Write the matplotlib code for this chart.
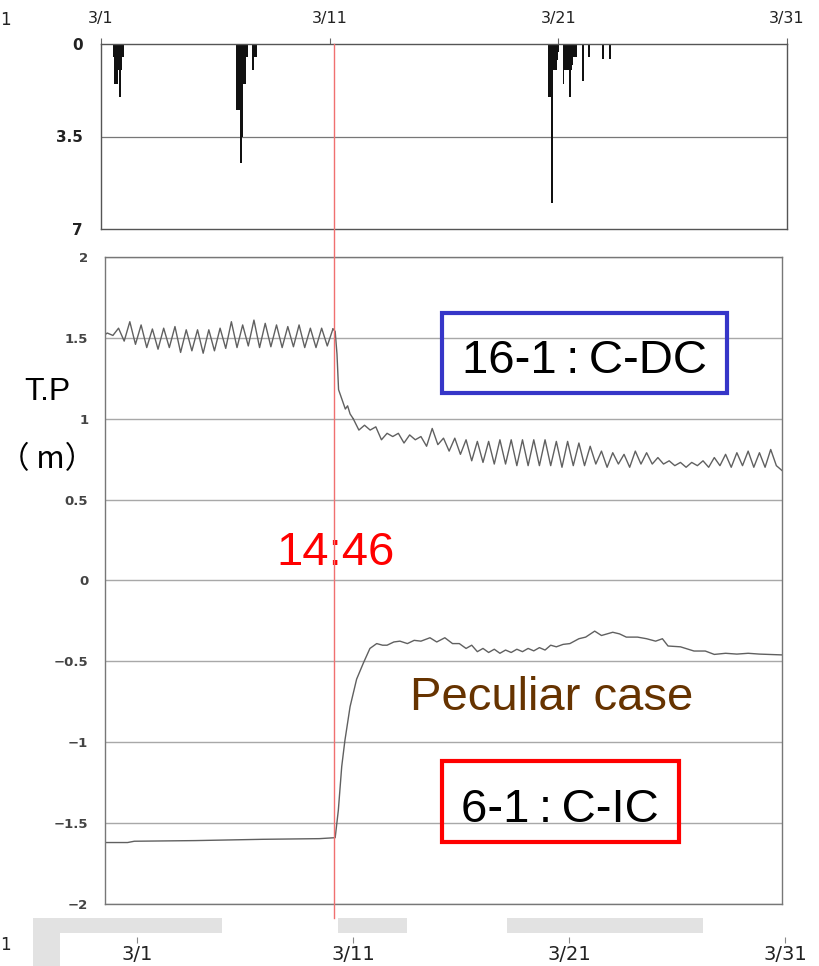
import numpy as np
import matplotlib
matplotlib.use("Agg")
import matplotlib.pyplot as plt
from matplotlib import transforms
from matplotlib.patches import Rectangle
from matplotlib.lines import Line2D

# ---------------- data ----------------
day_ticks = [0, 10, 20, 30]
day_labels = ["3/1", "3/11", "3/21", "3/31"]
quake_day = 10.15

# hourly rainfall (mm), days since 3/1 00:00
rain_day = [0.57, 0.61, 0.66, 0.70, 0.74, 0.79, 0.83, 0.87, 0.92, 0.96,
            5.95, 5.99, 6.03, 6.08, 6.12, 6.17, 6.21, 6.25, 6.30, 6.34, 6.38, 6.65, 6.73, 6.78,
            19.59, 19.63, 19.68, 19.72, 19.76, 19.81, 19.85, 19.90, 19.94, 19.98,
            20.24, 20.29, 20.33, 20.38, 20.42, 20.46, 20.51, 20.55, 20.60, 20.64,
            20.73, 20.81, 21.08, 21.34, 21.95, 22.26]
rain_mm = [0.5, 1.5, 1.5, 1.5, 1.0, 1.0, 2.0, 1.0, 0.5, 0.5,
           2.5, 2.5, 2.5, 1.5, 4.5, 3.5, 1.5, 1.5, 1.5, 0.5, 0.5, 1.0, 0.5, 0.5,
           2.0, 2.0, 1.0, 6.0, 1.0, 1.0, 0.6, 1.0, 0.6, 0.3,
           1.5, 1.0, 1.0, 1.0, 1.0, 1.0, 2.0, 1.0, 0.8, 0.5,
           0.5, 0.5, 1.4, 0.5, 0.55, 0.55]

# 16-1 : C-DC water level (T.P m)
cdc_t_pre = np.concatenate([[0.0], np.arange(0.1, 10.11, 0.25)])
cdc_v_pre = [1.52, 1.53, 1.515, 1.56, 1.48, 1.60, 1.46, 1.58, 1.44, 1.555, 1.43,
             1.56, 1.44, 1.57, 1.41, 1.55, 1.42, 1.55, 1.405, 1.55, 1.42,
             1.56, 1.435, 1.60, 1.44, 1.58, 1.45, 1.61, 1.44, 1.59, 1.445,
             1.58, 1.44, 1.57, 1.445, 1.58, 1.44, 1.56, 1.44, 1.56, 1.45, 1.555]
cdc_t_drop = [10.2, 10.28, 10.35, 10.45, 10.55, 10.65, 10.75, 10.86]
cdc_v_drop = [1.54, 1.40, 1.18, 1.14, 1.10, 1.06, 1.08, 1.03]
cdc_t_post = np.arange(11.0, 30.01, 0.25)
cdc_v_post = [1.00, 0.93, 0.96, 0.93, 0.95, 0.87, 0.91, 0.89, 0.91, 0.85,
              0.90, 0.87, 0.89, 0.83, 0.94, 0.84, 0.88, 0.80, 0.88, 0.78,
              0.87, 0.74, 0.86, 0.73, 0.86, 0.72, 0.87, 0.72, 0.87, 0.71,
              0.87, 0.71, 0.87, 0.71, 0.87, 0.71, 0.86, 0.70, 0.86, 0.71,
              0.85, 0.71, 0.83, 0.72, 0.80, 0.70, 0.79, 0.72, 0.78, 0.70,
              0.80, 0.72, 0.79, 0.72, 0.76, 0.72, 0.74, 0.71, 0.73, 0.70,
              0.73, 0.71, 0.74, 0.70, 0.76, 0.71, 0.78, 0.70, 0.79, 0.71,
              0.80, 0.70, 0.79, 0.70, 0.81, 0.71, 0.68]

# 6-1 : C-IC water level (T.P m)
cic_t = [0, 1.0, 1.3, 4.0, 7.0, 9.5, 10.2, 10.34, 10.49, 10.63, 10.86, 11.15, 11.45,
         11.74, 12.04, 12.3, 12.5, 12.8, 13.07, 13.4, 13.7, 14.0, 14.4, 14.7, 15.06,
         15.4, 15.7, 16.0, 16.25, 16.5, 16.75, 17.0, 17.25, 17.5, 17.75, 18.0, 18.25,
         18.5, 18.75, 19.0, 19.25, 19.5, 19.75, 20.0, 20.3, 20.6, 21.0, 21.3, 21.7,
         22.0, 22.5, 22.8, 23.1, 23.6, 24.0, 24.4, 24.7, 24.95, 25.5, 26.1, 26.6,
         27.0, 27.5, 28.0, 28.5, 29.0, 29.4, 30.0]
cic_v = [-1.62, -1.62, -1.612, -1.608, -1.60, -1.596, -1.59, -1.42, -1.15, -0.99,
         -0.78, -0.61, -0.51, -0.42, -0.39, -0.40, -0.40, -0.38, -0.375, -0.39,
         -0.37, -0.375, -0.354, -0.38, -0.354, -0.39, -0.39, -0.42, -0.40, -0.44,
         -0.42, -0.445, -0.425, -0.45, -0.43, -0.445, -0.425, -0.44, -0.42, -0.435,
         -0.415, -0.43, -0.40, -0.41, -0.395, -0.39, -0.36, -0.35, -0.313, -0.34,
         -0.32, -0.33, -0.35, -0.35, -0.36, -0.375, -0.36, -0.405, -0.41, -0.436,
         -0.436, -0.457, -0.45, -0.455, -0.45, -0.455, -0.457, -0.46]

level_ticks = [-2, -1.5, -1, -0.5, 0, 0.5, 1, 1.5, 2]
level_labels = ["\u22122", "\u22121.5", "\u22121", "\u22120.5", "0", "0.5", "1", "1.5", "2"]
rain_ticks = [0, 3.5, 7]
rain_labels = ["0", "3.5", "7"]

# ---------------- figure ----------------
W, H = 819, 966
fig = plt.figure(figsize=(W / 100, H / 100), dpi=100)
fig.patch.set_facecolor("white")


def fx(x):
    return x / W


def fy(y):
    return 1 - y / H


line_col = "#606060"

# top rainfall panel
ax1 = fig.add_axes([fx(101), fy(229), (787 - 101) / W, (229 - 44) / H])
ax1.bar(rain_day, rain_mm, width=0.055, color="#111111", linewidth=0, align="center")
ax1.set_xlim(0, 30)
ax1.set_ylim(7, 0)
ax1.set_yticks(rain_ticks)
ax1.set_yticklabels(rain_labels, fontsize=11, fontweight="bold", color="#222222")
ax1.axhline(3.5, color="#777777", lw=0.9, zorder=0)
ax1.xaxis.tick_top()
ax1.set_xticks(day_ticks)
ax1.set_xticklabels(day_labels, fontsize=11.5, color="#222222")
ax1.tick_params(axis="x", direction="out", length=4, width=0.8, color="#666666", pad=9)
ax1.tick_params(axis="y", direction="in", length=0, pad=13)
for s in ax1.spines.values():
    s.set_color("#555555")
    s.set_linewidth(1.0)

# main water level panel
ax2 = fig.add_axes([fx(105), fy(904), (782 - 105) / W, (904 - 257) / H])
ax2.plot(cdc_t_pre, cdc_v_pre, color=line_col, lw=1.0)
ax2.plot(np.concatenate([[cdc_t_pre[-1]], cdc_t_drop, [cdc_t_post[0]]]),
         [cdc_v_pre[-1]] + cdc_v_drop + [cdc_v_post[0]], color=line_col, lw=1.0)
ax2.plot(cdc_t_post, cdc_v_post, color=line_col, lw=1.0)
ax2.plot(cic_t, cic_v, color=line_col, lw=1.0)
ax2.set_xlim(0, 30)
ax2.set_ylim(-2, 2)
ax2.set_yticks(level_ticks)
ax2.set_yticklabels(level_labels, fontsize=9.5, fontweight="bold", color="#444444")
ax2.set_xticks([])
ax2.tick_params(axis="y", length=0, pad=12)
ax2.grid(axis="y", color="#a8a8a8", lw=1.0)
ax2.set_axisbelow(True)
for s in ax2.spines.values():
    s.set_color("#777777")
    s.set_linewidth(1.0)

# bottom date strip (decorative grey blobs + labels)
for (x0, x1) in [(33, 222), (338, 407), (507, 703)]:
    fig.patches.append(Rectangle((fx(x0), fy(933)), (x1 - x0) / W, 15 / H,
                                 transform=fig.transFigure, color="#e2e2e2", lw=0, zorder=0))
fig.patches.append(Rectangle((fx(33), fy(966)), 27 / W, 48 / H,
                             transform=fig.transFigure, color="#e2e2e2", lw=0, zorder=0))
ax3 = fig.add_axes([fx(137), fy(937), (785 - 137) / W, 0.0004])
ax3.set_xlim(0, 30)
ax3.set_yticks([])
ax3.set_xticks(day_ticks)
ax3.set_xticklabels(day_labels, fontsize=14, color="#222222",
                    family=["Liberation Sans Narrow", "DejaVu Sans"])
ax3.tick_params(axis="x", direction="out", length=4, width=0.8, color="#888888", pad=2)
for s in ax3.spines.values():
    s.set_visible(False)
ax3.patch.set_alpha(0)

# red earthquake line across both panels
blend = transforms.blended_transform_factory(ax2.transData, fig.transFigure)
fig.lines.append(Line2D([quake_day, quake_day], [fy(44), fy(918)], transform=blend,
                        color="#f07070", lw=1.0, zorder=5))

# annotations
sans = ["Liberation Sans", "DejaVu Sans"]
fig.text(fx(47), fy(400), "T.P", fontsize=23, family=sans, ha="center", va="baseline")
fig.text(fx(47), fy(468), "\uff08 m\uff09", fontsize=22,
         family=["Noto Sans CJK JP", "DejaVu Sans"], ha="center", va="baseline")
fig.text(fx(336), fy(565), "14:46", fontsize=34, family=sans, color="red",
         ha="center", va="baseline")
fig.text(fx(552), fy(710), "Peculiar case", fontsize=34, family=sans, color="#663300",
         ha="center", va="baseline")

fig.patches.append(Rectangle((fx(442), fy(393)), (727 - 442) / W, (393 - 313) / H,
                             transform=fig.transFigure, fill=False, ec="#3636c8", lw=3.0))
fig.text(fx(585), fy(373), "16-1\u2009:\u2009C-DC", fontsize=34, family=sans,
         ha="center", va="baseline")
fig.patches.append(Rectangle((fx(442), fy(842)), (679 - 442) / W, (842 - 761) / H,
                             transform=fig.transFigure, fill=False, ec="#ff0000", lw=3.0))
fig.text(fx(560), fy(822), "6-1\u2009:\u2009C-IC", fontsize=34, family=sans,
         ha="center", va="baseline")

fig.text(fx(5), fy(20), "1", fontsize=12, color="#222222", ha="center", va="center")
fig.text(fx(5), fy(945), "1", fontsize=12, color="#222222", ha="center", va="center")

fig.savefig("out.png", dpi=100)
